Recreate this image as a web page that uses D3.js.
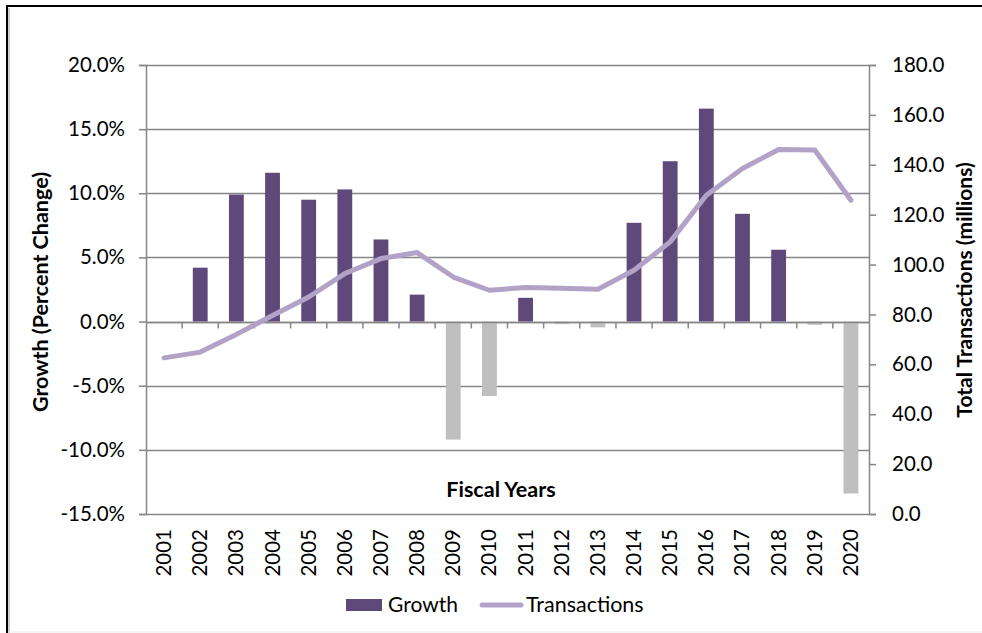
<!DOCTYPE html>
<html><head><meta charset="utf-8">
<script src="https://cdn.jsdelivr.net/npm/d3@7"></script>
<style>body{margin:0;background:#fff}svg{display:block}text{font-family:Lato,"Open Sans",sans-serif;fill:#000}</style>
</head><body><svg id="c" width="982" height="633"></svg>
<script>
const years = ["2001","2002","2003","2004","2005","2006","2007","2008","2009","2010","2011","2012","2013","2014","2015","2016","2017","2018","2019","2020"];
const growth = [null,4.2,9.9,11.6,9.5,10.3,6.4,2.1,-9.2,-5.8,1.85,-0.2,-0.45,7.7,12.5,16.6,8.4,5.6,-0.25,-13.4];
const transactions = [62.6,64.9,72.0,79.6,87.0,96.4,102.4,104.8,95.0,89.7,90.8,90.5,90.1,97.7,109.1,127.8,138.5,146.1,145.9,125.8];
const leftTicks = [20,15,10,5,0,-5,-10,-15];
const rightTicks = [180,160,140,120,100,80,60,40,20,0];

const svg = d3.select("#c");
const L = 146, R = 869, T = 65, B = 514;
const x = d3.scaleBand().domain(years).range([L,R]).padding(0);
const yL = d3.scaleLinear().domain([-15,20]).range([B,T]);
const yR = d3.scaleLinear().domain([0,180]).range([B,T]);
const axisCol = "#868686";

// outer frame
svg.append("rect").attr("x",7).attr("y",6).attr("width",1000).attr("height",1000).attr("fill","none").attr("stroke","#000").attr("stroke-width",2);
svg.append("line").attr("x1",9).attr("x2",9).attr("y1",8).attr("y2",633).attr("stroke","#d0d0d0").attr("stroke-width",2);
svg.append("line").attr("x1",8).attr("x2",982).attr("y1",632).attr("y2",632).attr("stroke","#ececec").attr("stroke-width",1);

// gridlines
svg.append("g").selectAll("line").data(leftTicks).join("line")
  .attr("x1",L).attr("x2",R).attr("y1",d=>Math.round(yL(d))+0.5).attr("y2",d=>Math.round(yL(d))+0.5)
  .attr("stroke",axisCol).attr("stroke-width",1.5);

// left axis
const gl = svg.append("g").attr("transform",`translate(${L},0)`)
  .call(d3.axisLeft(yL).tickValues(leftTicks).tickFormat(d=>d.toFixed(1)+"%").tickSize(7).tickPadding(14));
gl.select(".domain").attr("stroke",axisCol).attr("stroke-width",1.5);
gl.selectAll(".tick line").attr("stroke",axisCol).attr("stroke-width",1.5);
gl.selectAll("text").attr("font-size",20.5).attr("fill","#000").style("font-family","Lato");

// right axis
const gr = svg.append("g").attr("transform",`translate(${R},0)`)
  .call(d3.axisRight(yR).tickValues(rightTicks).tickFormat(d=>d.toFixed(1)).tickSize(7).tickPadding(16));
gr.select(".domain").attr("stroke",axisCol).attr("stroke-width",1.5);
gr.selectAll(".tick line").attr("stroke",axisCol).attr("stroke-width",1.5);
gr.selectAll("text").attr("font-size",20.5).attr("fill","#000").style("font-family","Lato");

// bars
const bw = x.bandwidth()*0.41;
svg.append("g").selectAll("rect").data(years.map((y,i)=>({y,v:growth[i]})).filter(d=>d.v!==null)).join("rect")
  .attr("x",d=>x(d.y)+x.bandwidth()/2-bw/2).attr("width",bw)
  .attr("y",d=>yL(Math.max(0,d.v))).attr("height",d=>Math.abs(yL(d.v)-yL(0)))
  .attr("fill",d=>d.v>=0?"#5F497A":"#BFBFBF");

// category axis at zero
const z = Math.round(yL(0))+0.5;
svg.append("line").attr("x1",L).attr("x2",R).attr("y1",z).attr("y2",z).attr("stroke",axisCol).attr("stroke-width",1.5);
svg.append("g").selectAll("line").data(years.slice(1)).join("line")
  .attr("x1",d=>x(d)).attr("x2",d=>x(d)).attr("y1",z).attr("y2",z+6).attr("stroke",axisCol).attr("stroke-width",1.5);

// year labels
svg.append("g").selectAll("text").data(years).join("text")
  .attr("transform",d=>`translate(${x(d)+x.bandwidth()/2+7},529) rotate(-90)`)
  .attr("text-anchor","end").attr("font-size",20.5).text(d=>d);

// line
const line = d3.line().x((d,i)=>x(years[i])+x.bandwidth()/2).y(d=>yR(d));
svg.append("path").datum(transactions).attr("d",line).attr("fill","none")
  .attr("stroke","#B3A2C7").attr("stroke-width",5).attr("stroke-linejoin","round").attr("stroke-linecap","round");

// titles
svg.append("text").attr("x",501).attr("y",497).attr("text-anchor","middle").attr("font-size",21.5).attr("font-weight","bold").text("Fiscal Years");
svg.append("text").attr("transform","translate(48,292) rotate(-90)").attr("text-anchor","middle").attr("font-size",21.5).attr("font-weight","bold").text("Growth (Percent Change)");
svg.append("text").attr("transform","translate(972,290) rotate(-90)").attr("text-anchor","middle").attr("font-size",21).attr("font-weight","bold").text("Total Transactions (millions)");

// legend
svg.append("rect").attr("x",346).attr("y",599).attr("width",36).attr("height",12).attr("fill","#5F497A");
svg.append("text").attr("x",388).attr("y",612).attr("font-size",21).text("Growth");
svg.append("line").attr("x1",482).attr("x2",521).attr("y1",605).attr("y2",605).attr("stroke","#B3A2C7").attr("stroke-width",5).attr("stroke-linecap","round");
svg.append("text").attr("x",526).attr("y",612).attr("font-size",21.5).text("Transactions");
</script></body></html>
